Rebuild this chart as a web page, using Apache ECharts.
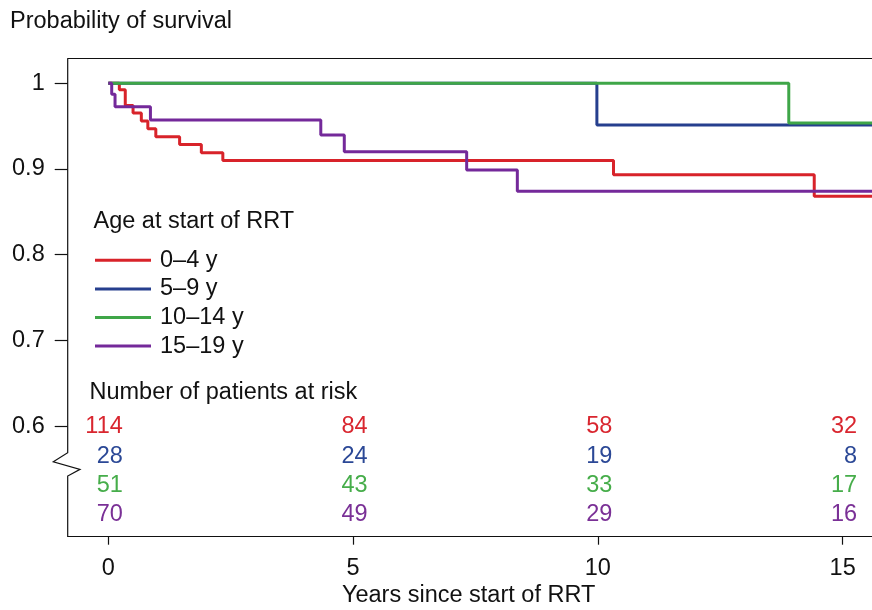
<!DOCTYPE html>
<html><head><meta charset="utf-8">
<script src="https://cdn.jsdelivr.net/npm/echarts@6/dist/echarts.min.js"></script>
<style>html,body{margin:0;padding:0;background:#fff}#c{width:872px;height:610px}</style>
</head><body><div id="c"></div>
<script>
// ---------- data ----------
const groups = ['0–4 y', '5–9 y', '10–14 y', '15–19 y'];

// Kaplan–Meier steps: event times (years) and survival after each step
const red_t    = [0, 0.225, 0.346, 0.505, 0.674, 0.807, 0.970, 1.456, 1.900, 2.339, 10.32, 14.42, 16];
const red_s    = [1, 0.9926, 0.9741, 0.9653, 0.9560, 0.9471, 0.9377, 0.9285, 0.9189, 0.9100, 0.8934, 0.8681, 0.8681];
const blue_t   = [0, 9.98, 16];
const blue_s   = [1, 0.9513, 0.9513];
const green_t  = [0, 13.90, 16];
const green_s  = [1, 0.9537, 0.9537];
const purple_t = [0, 0.069, 0.137, 0.86, 4.34, 4.82, 7.32, 8.355, 16];
const purple_s = [1, 0.9872, 0.9727, 0.9572, 0.9397, 0.9200, 0.8988, 0.8740, 0.8740];

// numbers at risk
const riskTimes  = [0, 5, 10, 15];
const risk_0_4   = [114, 84, 58, 32];
const risk_5_9   = [28, 24, 19, 8];
const risk_10_14 = [51, 43, 33, 17];
const risk_15_19 = [70, 49, 29, 16];

const xTicks = [0, 5, 10, 15];
const yTicks = [0.6, 0.7, 0.8, 0.9, 1];

// ---------- style ----------
const FONT_FAMILY = '"Liberation Sans", Arial, Helvetica, sans-serif';
const FS = 23.5;
const FONT = FS + 'px ' + FONT_FAMILY;
const lineColors = ['#d8232a', '#263f8e', '#3fa648', '#74299a'];
const textColors = ['#d9262f', '#2b4896', '#46ad4a', '#7a3096'];
const AXIS_COLOR = '#111';

const GRID_LEFT = 67.7;
const X_MIN = -0.83, X_MAX = 15.6;
const Y_MIN = 0.4709, Y_MAX = 1.0287;

const zip = (t, s) => t.map((v, i) => [v, s[i]]);
const curves = [zip(red_t, red_s), zip(blue_t, blue_s), zip(green_t, green_s), zip(purple_t, purple_s)];
const riskRows = [risk_0_4, risk_5_9, risk_10_14, risk_15_19];

const riskData = [];
riskRows.forEach((arr, row) => arr.forEach((n, j) => riskData.push([riskTimes[j], 0.6, n, row])));

const chart = echarts.init(document.getElementById('c'), null, {renderer: 'canvas'});

const lineSeries = groups.map((g, i) => ({
  name: g,
  type: 'line',
  step: 'end',
  data: curves[i],
  symbol: 'none',
  showSymbol: false,
  clip: true,
  lineStyle: {color: lineColors[i], width: 3},
  itemStyle: {color: lineColors[i]},
  emphasis: {disabled: true},
  z: 2 + i
}));

const option = {
  animation: false,
  backgroundColor: '#fff',
  grid: {left: GRID_LEFT, top: 58.7, right: 0, bottom: 610 - 536.7, containLabel: false},
  xAxis: [{
    type: 'value', min: X_MIN, max: X_MAX, position: 'bottom',
    splitLine: {show: false},
    axisLine: {show: true, onZero: false, lineStyle: {color: AXIS_COLOR, width: 1.2}},
    axisTick: {show: true, length: 8, customValues: xTicks, lineStyle: {color: AXIS_COLOR, width: 1.2}},
    axisLabel: {show: true, customValues: xTicks, margin: 20, color: AXIS_COLOR, fontFamily: FONT_FAMILY, fontSize: FS, formatter: v => String(v)}
  }, {
    type: 'value', min: X_MIN, max: X_MAX, position: 'top',
    splitLine: {show: false},
    axisLine: {show: true, onZero: false, lineStyle: {color: AXIS_COLOR, width: 1.2}},
    axisTick: {show: false}, axisLabel: {show: false}
  }],
  yAxis: {
    type: 'value', min: Y_MIN, max: Y_MAX, position: 'left',
    splitLine: {show: false},
    axisLine: {show: false, onZero: false},
    axisTick: {show: true, length: 13, customValues: yTicks, lineStyle: {color: AXIS_COLOR, width: 1.2}},
    axisLabel: {show: true, customValues: yTicks, margin: 23, color: AXIS_COLOR, fontFamily: FONT_FAMILY, fontSize: FS, formatter: v => String(+v.toFixed(1))}
  },
  legend: {
    data: groups, orient: 'vertical', left: 95, top: 246, padding: 0,
    icon: 'rect', itemWidth: 56, itemHeight: 3, itemGap: 0,
    selectedMode: false,
    textStyle: {color: AXIS_COLOR, fontFamily: FONT_FAMILY, fontSize: FS, lineHeight: 28.6, padding: [0, 0, 0, 4]}
  },
  series: lineSeries.concat([{
    name: 'at risk',
    type: 'custom',
    coordinateSystem: 'cartesian2d',
    data: riskData,
    encode: {x: 0, y: 1},
    clip: false,
    silent: true,
    z: 10,
    renderItem: (params, api) => {
      const t = api.value(0), n = api.value(2), row = api.value(3);
      const p = api.coord([t, 0.6]);
      return {
        type: 'text',
        x: p[0] + 14.5,
        y: p[1] + 0.7 + row * 29.3,
        style: {text: String(n), fill: textColors[row], font: FONT, textAlign: 'right', textVerticalAlign: 'middle'}
      };
    }
  }])
};

chart.setOption(option);

// decorations: text labels and broken left axis
const toPx = v => chart.convertToPixel({xAxisIndex: 0, yAxisIndex: 0}, v);
const xL = toPx([X_MIN, 1])[0];
const yTop = toPx([0, Y_MAX])[1];
const yBot = toPx([0, Y_MIN])[1];
const y06 = toPx([0, 0.6])[1];
const xMid = toPx([7.36, 1])[0];

chart.setOption({
  graphic: [
    {type: 'text', x: 10, y: 21.3, style: {text: 'Probability of survival', font: FONT, fill: AXIS_COLOR, textAlign: 'left', textVerticalAlign: 'middle'}},
    {type: 'text', x: 93.5, y: 221.3, style: {text: 'Age at start of RRT', font: FONT, fill: AXIS_COLOR, textAlign: 'left', textVerticalAlign: 'middle'}},
    {type: 'text', x: 89.5, y: 392.5, style: {text: 'Number of patients at risk', font: FONT, fill: AXIS_COLOR, textAlign: 'left', textVerticalAlign: 'middle'}},
    {type: 'text', x: xMid, y: 596, style: {text: 'Years since start of RRT', font: FONT, fill: AXIS_COLOR, textAlign: 'center', textVerticalAlign: 'middle'}},
    {type: 'polyline', z: 20, shape: {points: [
      [xL, yTop], [xL, y06 + 26.7], [xL - 14.4, y06 + 35.7], [xL + 12.3, y06 + 43.3], [xL, y06 + 50], [xL, yBot]
    ]}, style: {stroke: AXIS_COLOR, lineWidth: 1.2, fill: null}}
  ]
});
</script>
</body></html>
